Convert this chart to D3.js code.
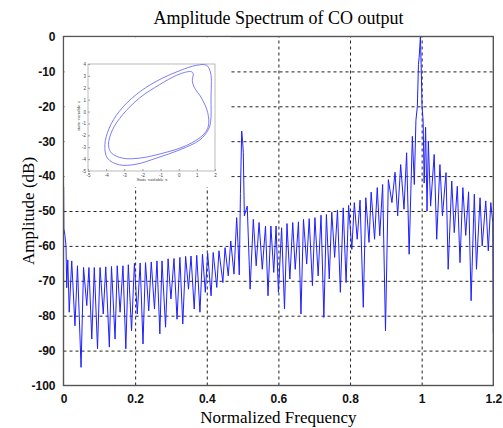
<!DOCTYPE html>
<html>
<head>
<meta charset="utf-8">
<script src="https://cdn.jsdelivr.net/npm/d3@7"></script>
<style>
  body { margin: 0; background: #fff; }
  svg { display: block; }
  .tick text { font-family: "Liberation Sans", Arial, sans-serif; font-weight: bold; font-size: 12px; fill: #111; }
  .inset .tick text { font-family: "Liberation Sans", Arial, sans-serif; font-weight: normal; font-size: 4.5px; fill: #444; }
</style>
</head>
<body>
<svg id="chart" width="503" height="428"></svg>
<script>
// spectrum (normalized frequency, amplitude in dB)
const freq = [0, 0.001, 0.004, 0.007, 0.009, 0.012, 0.016, 0.023, 0.032, 0.039, 0.049, 0.056, 0.065, 0.071, 0.079, 0.086, 0.095, 0.102, 0.111, 0.118, 0.128, 0.134, 0.144, 0.150, 0.158, 0.166, 0.174, 0.181, 0.190, 0.198, 0.206, 0.214, 0.222, 0.229, 0.238, 0.245, 0.254, 0.261, 0.269, 0.275, 0.285, 0.292, 0.300, 0.3085, 0.317, 0.325, 0.333, 0.341, 0.349, 0.356, 0.365, 0.372, 0.381, 0.388, 0.396, 0.4025, 0.412, 0.418, 0.428, 0.434, 0.445, 0.451, 0.460, 0.467, 0.476, 0.4835, 0.487, 0.4908, 0.494, 0.4975, 0.500, 0.502, 0.505, 0.513, 0.521, 0.530, 0.538, 0.546, 0.555, 0.564, 0.571, 0.579, 0.587, 0.5935, 0.600, 0.609, 0.617, 0.624, 0.632, 0.640, 0.647, 0.656, 0.663, 0.670, 0.679, 0.686, 0.695, 0.702, 0.711, 0.719, 0.727, 0.734, 0.742, 0.749, 0.757, 0.765, 0.773, 0.781, 0.789, 0.796, 0.805, 0.812, 0.820, 0.828, 0.837, 0.844, 0.853, 0.859, 0.8685, 0.876, 0.883, 0.891, 0.899, 0.907, 0.917, 0.9256, 0.933, 0.9414, 0.9507, 0.958, 0.965, 0.974, 0.9795, 0.984, 0.988, 0.991, 0.993, 0.9965, 0.999, 1.001, 1.004, 1.007, 1.011, 1.015, 1.0186, 1.025, 1.035, 1.042, 1.051, 1.058, 1.068, 1.074, 1.084, 1.091, 1.0995, 1.107, 1.115, 1.123, 1.131, 1.138, 1.147, 1.153, 1.163, 1.169, 1.179, 1.186, 1.193, 1.1985, 1.2];
const ampDb = [-38, -55, -57, -60, -72, -64, -79, -64.3, -82.9, -65.7, -94.8, -66.2, -77.1, -66.2, -86.7, -66.2, -89.5, -66.2, -79.5, -66, -89, -65.9, -86.7, -65.7, -79, -65.7, -89.5, -65.4, -84.3, -65, -79.5, -64.9, -88.1, -64.8, -78.6, -64.6, -78.1, -64.3, -85.2, -64.3, -83.3, -63.7, -75.2, -63.6, -81, -63.3, -82.4, -63, -72.4, -62.9, -78.1, -62.7, -79, -62.4, -73.3, -62.1, -74.3, -61.9, -71.9, -61.4, -70.5, -60.5, -68.6, -58.6, -68.1, -51.9, -59, -68.3, -45, -27.1, -30, -33.3, -51.4, -48.6, -72.4, -52.4, -65.7, -53.3, -66.7, -54.3, -74.3, -54.3, -67.6, -54.3, -73.3, -54.8, -78.1, -53.6, -69.5, -53.3, -66.7, -53.1, -79.5, -52.4, -65.2, -52.2, -71.4, -51.9, -68.6, -51.2, -80.5, -51, -69.5, -50.3, -63.3, -49.7, -73.3, -49.1, -70.5, -48.4, -61, -47.6, -58.1, -46.9, -77.6, -46.2, -59, -44.6, -58.1, -43.3, -57.1, -42.4, -84.3, -41, -47.6, -38.9, -51.4, -36.7, -49.5, -33.3, -62.4, -28.6, -42.4, -24, -20, -8, -6, 0, -10, -20, -24, -42, -26, -50, -30, -48.6, -33.8, -58.1, -36.7, -51.4, -39, -66.7, -41.4, -56.2, -42.9, -64.8, -43.3, -57, -44.5, -75.7, -45.2, -66.7, -46.2, -60, -47.1, -61.4, -47.6, -53.3, -85];

const xTicks = [0, 0.2, 0.4, 0.6, 0.8, 1, 1.2];
const yTicks = [0, -10, -20, -30, -40, -50, -60, -70, -80, -90, -100];

// inset: limit cycle in the (x, z) state plane, two turns
const outerX = [1.54, 1.76, 1.78, 1.76, 1.63, 1.17, 0.06, -1.24, -2.35, -3.28, -3.93, -4.07, -3.83, -3.28, -2.35, -1.24, 0.06, 0.98];
const outerZ = [3.89, 3.24, 1.13, -0.83, -1.53, -2.38, -3.22, -3.92, -4.43, -4.48, -3.92, -2.8, -1.39, 0.01, 1.42, 2.54, 3.44, 3.89];
const innerX = [0.43, 0.7, 0.8, 0.75, 0.85, 1.26, 1.6, 1.63, 1.35, 0.43, -0.87, -2.17, -3.09, -3.7, -3.87, -3.65, -3.09, -2.17, -1.06, -0.13];
const innerZ = [3.33, 3.35, 3.2, 2.6, 2.05, 1.13, -0.1, -1.25, -1.96, -2.85, -3.5, -3.92, -3.92, -3.5, -2.8, -1.53, -0.27, 1.13, 2.26, 3.04];
const insetXTicks = [-5, -4, -3, -2, -1, 0, 1, 2];
const insetZTicks = [-5, -4, -3, -2, -1, 0, 1, 2, 3, 4];

const svg = d3.select('#chart');
const m = { left: 63.5, right: 493.3, top: 36.5, bottom: 385.5 };
const plain = d => String(d);   // hyphen minus like the original

const x = d3.scaleLinear().domain([0, 1.2]).range([m.left, m.right]);
const y = d3.scaleLinear().domain([-100, 0]).range([m.bottom, m.top]);

// grid
svg.append('g')
  .attr('transform', `translate(0,${m.bottom})`)
  .call(d3.axisBottom(x).tickValues(xTicks.slice(1, -1)).tickSize(-(m.bottom - m.top)).tickFormat(''))
  .call(g => g.select('.domain').remove())
  .selectAll('line').attr('stroke', '#222').attr('stroke-dasharray', '3,3');

svg.append('g')
  .attr('transform', `translate(${m.left},0)`)
  .call(d3.axisLeft(y).tickValues(yTicks.slice(1, -1)).tickSize(-(m.right - m.left)).tickFormat(''))
  .call(g => g.select('.domain').remove())
  .selectAll('line').attr('stroke', '#222').attr('stroke-dasharray', '3,3');

// clip for the spectrum
svg.append('clipPath').attr('id', 'plotClip')
  .append('rect').attr('x', m.left).attr('y', m.top).attr('width', m.right - m.left).attr('height', m.bottom - m.top);

const line = d3.line()
  .x((d, i) => x(freq[i]))
  .y((d, i) => y(ampDb[i]));

svg.append('path')
  .datum(freq)
  .attr('clip-path', 'url(#plotClip)')
  .attr('d', line)
  .attr('fill', 'none')
  .attr('stroke', '#1f1fff')
  .attr('stroke-width', 1)
  .attr('stroke-linejoin', 'round');

// axes
svg.append('g')
  .attr('transform', `translate(0,${m.bottom})`)
  .call(d3.axisBottom(x).tickValues(xTicks).tickSize(0).tickPadding(9).tickFormat(plain))
  .call(g => g.select('.domain').remove());

svg.append('g')
  .attr('transform', `translate(${m.left},0)`)
  .call(d3.axisLeft(y).tickValues(yTicks).tickSize(0).tickPadding(8).tickFormat(plain))
  .call(g => g.select('.domain').remove());

svg.append('rect')
  .attr('x', m.left).attr('y', m.top)
  .attr('width', m.right - m.left).attr('height', m.bottom - m.top)
  .attr('fill', 'none').attr('stroke', '#555').attr('stroke-width', 1.4);

// labels
svg.append('text')
  .attr('x', (m.left + m.right) / 2).attr('y', 24)
  .attr('text-anchor', 'middle')
  .style('font-family', '"Liberation Serif", "Times New Roman", serif')
  .style('font-size', '18px')
  .text('Amplitude Spectrum of CO output');

svg.append('text')
  .attr('x', (m.left + m.right) / 2).attr('y', 423)
  .attr('text-anchor', 'middle')
  .style('font-family', '"Liberation Serif", "Times New Roman", serif')
  .style('font-size', '17px')
  .text('Normalized Frequency');

svg.append('text')
  .attr('transform', `translate(34,${(m.top + m.bottom) / 2}) rotate(-90)`)
  .attr('text-anchor', 'middle')
  .style('font-family', '"Liberation Serif", "Times New Roman", serif')
  .style('font-size', '17px')
  .text('Amplitude (dB)');

// inset
const inset = svg.append('g').attr('class', 'inset');
inset.append('rect')
  .attr('x', m.left + 1).attr('y', m.top + 1)
  .attr('width', 231 - m.left - 1).attr('height', 187 - m.top - 1)
  .attr('fill', '#fff');

const ix = d3.scaleLinear().domain([-5, 2]).range([88, 215]);
const iz = d3.scaleLinear().domain([-5, 4]).range([171, 64]);

inset.append('g')
  .attr('transform', 'translate(0,171)')
  .call(d3.axisBottom(ix).tickValues(insetXTicks).tickSize(-2).tickPadding(2.5).tickFormat(plain))
  .call(g => g.select('.domain').remove())
  .selectAll('line').attr('stroke', '#999');

inset.append('g')
  .attr('transform', 'translate(88,0)')
  .call(d3.axisLeft(iz).tickValues(insetZTicks).tickSize(-2).tickPadding(2).tickFormat(plain))
  .call(g => g.select('.domain').remove())
  .selectAll('line').attr('stroke', '#999');

inset.append('rect')
  .attr('x', 88).attr('y', 64).attr('width', 127).attr('height', 107)
  .attr('fill', 'none').attr('stroke', '#aaa').attr('stroke-width', 0.8);

const loop = d3.line().curve(d3.curveCatmullRomClosed);
inset.append('path')
  .attr('d', loop(outerX.map((v, i) => [ix(v), iz(outerZ[i])])))
  .attr('fill', 'none').attr('stroke', '#6f6ff2').attr('stroke-width', 0.9);
inset.append('path')
  .attr('d', loop(innerX.map((v, i) => [ix(v), iz(innerZ[i])])))
  .attr('fill', 'none').attr('stroke', '#6f6ff2').attr('stroke-width', 0.9);

inset.append('text')
  .attr('x', 152).attr('y', 181)
  .attr('text-anchor', 'middle')
  .style('font-family', '"Liberation Serif", serif')
  .style('font-size', '5px').style('fill', '#333')
  .text('State variable x');

inset.append('text')
  .attr('transform', 'translate(80,116) rotate(-90)')
  .attr('text-anchor', 'middle')
  .style('font-family', '"Liberation Serif", serif')
  .style('font-size', '5px').style('fill', '#333')
  .text('state variable z');
</script>
</body>
</html>
